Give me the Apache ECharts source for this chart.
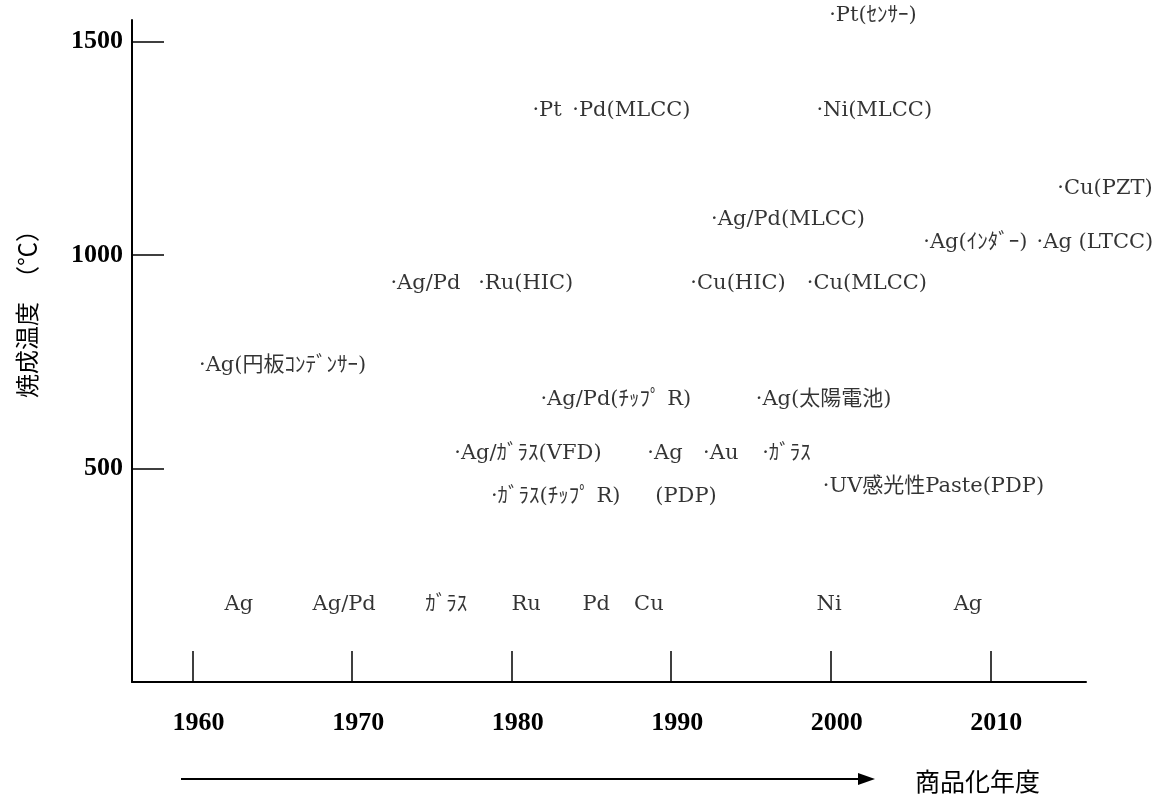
<!DOCTYPE html>
<html>
<head>
<meta charset="utf-8">
<title>焼成温度と商品化年度</title>
<script src="https://cdn.jsdelivr.net/npm/echarts@6/dist/echarts.min.js"></script>
<style>
  html, body { margin: 0; padding: 0; background: #fff; }
  #chart { width: 1161px; height: 798px; }
</style>
</head>
<body>
<div id="chart"></div>
<script>
// 用途ラベル（·付き）: 商品化年度 / 焼成温度
const pasteNames = [
  "·Pt(ｾﾝｻｰ)", "·Pt", "·Pd(MLCC)", "·Ni(MLCC)", "·Cu(PZT)",
  "·Ag/Pd(MLCC)", "·Ag(ｲﾝﾀﾞｰ)", "·Ag (LTCC)",
  "·Ag/Pd", "·Ru(HIC)", "·Cu(HIC)", "·Cu(MLCC)",
  "·Ag(円板ｺﾝﾃﾞﾝｻｰ)", "·Ag/Pd(ﾁｯﾌﾟ R)", "·Ag(太陽電池)",
  "·Ag/ｶﾞﾗｽ(VFD)", "·Ag", "·Au", "·ｶﾞﾗｽ",
  "·ｶﾞﾗｽ(ﾁｯﾌﾟ R)", "(PDP)", "·UV感光性Paste(PDP)"
];
const pasteYears = [
  1999.9, 1981.3, 1983.8, 1999.1, 2014.2,
  1992.5, 2005.8, 2012.9,
  1972.4, 1977.9, 1991.2, 1998.5,
  1960.4, 1981.8, 1995.3,
  1976.4, 1988.5, 1992.0, 1995.7,
  1978.7, 1989.0, 1999.5
];
const pasteTemps = [
  1560, 1337, 1337, 1337, 1155,
  1083, 1030, 1030,
  932, 932, 932, 932,
  742, 662, 662,
  536, 536, 536, 536,
  435, 435, 457
];

// 下段の金属名
const metalNames = ["Ag", "Ag/Pd", "ｶﾞﾗｽ", "Ru", "Pd", "Cu", "Ni", "Ag"];
const metalYears = [1962.9, 1969.5, 1975.9, 1980.9, 1985.3, 1988.6, 1999.9, 2008.6];
const metalTemps = [182, 182, 182, 182, 182, 182, 182, 182];

// 目盛
const yearTicks = [1960, 1970, 1980, 1990, 2000, 2010];
const tempTicks = [500, 1000, 1500];

const serif = "'DejaVu Serif', 'Noto Sans CJK JP', serif";
const boldSerif = "'Liberation Serif', serif";
const gothic = "'Noto Sans CJK JP', sans-serif";

const chart = echarts.init(document.getElementById("chart"));

const option = {
  animation: false,
  backgroundColor: "#fff",
  grid: { left: 132, right: 75, top: 20, bottom: 116 },
  xAxis: {
    type: "value",
    min: 1956.2,
    max: 2016,
    splitLine: { show: false },
    axisLine: { show: true, lineStyle: { color: "#000", width: 2 } },
    axisTick: {
      inside: true,
      length: 31,
      customValues: yearTicks,
      lineStyle: { color: "#000", width: 1.5 }
    },
    axisLabel: {
      customValues: yearTicks,
      margin: 28,
      padding: [0, 0, 0, 12],
      color: "#000",
      fontFamily: boldSerif,
      fontWeight: "bold",
      fontSize: 26,
      formatter: function (v) { return String(v); }
    }
  },
  yAxis: {
    type: "value",
    min: 0,
    max: 1550,
    splitLine: { show: false },
    axisLine: { show: true, lineStyle: { color: "#000", width: 2 } },
    axisTick: {
      inside: true,
      length: 32,
      customValues: tempTicks,
      lineStyle: { color: "#000", width: 1.5 }
    },
    axisLabel: {
      customValues: tempTicks,
      margin: 9,
      color: "#000",
      fontFamily: boldSerif,
      fontWeight: "bold",
      fontSize: 26,
      formatter: function (v) { return String(v); }
    },
    name: "焼成温度　（℃）",
    nameLocation: "middle",
    nameRotate: 90,
    nameGap: 93,
    nameTextStyle: {
      color: "#000",
      fontFamily: gothic,
      fontSize: 24,
      padding: [0, 0, 0, 86]
    }
  },
  graphic: [
    {
      type: "line",
      shape: { x1: 181, y1: 779, x2: 862, y2: 779 },
      style: { stroke: "#000", lineWidth: 2 }
    },
    {
      type: "polygon",
      shape: { points: [[858, 773], [875, 779], [858, 785]] },
      style: { fill: "#000" }
    },
    {
      type: "text",
      left: 915,
      top: 769,
      style: { text: "商品化年度", fill: "#000", font: "25px " + gothic }
    }
  ],
  series: [
    {
      type: "scatter",
      silent: true,
      clip: false,
      symbolSize: 0,
      data: pasteNames.map(function (n, i) {
        return { name: n, value: [pasteYears[i], pasteTemps[i]] };
      }),
      label: {
        show: true,
        position: "right",
        distance: 0,
        color: "#000",
        fontFamily: serif,
        fontSize: 21,
        formatter: function (p) { return p.name; }
      }
    },
    {
      type: "scatter",
      silent: true,
      clip: false,
      symbolSize: 0,
      data: metalNames.map(function (n, i) {
        return { name: n, value: [metalYears[i], metalTemps[i]] };
      }),
      label: {
        show: true,
        position: "inside",
        color: "#000",
        fontFamily: serif,
        fontSize: 21,
        formatter: function (p) { return p.name; }
      }
    }
  ]
};

chart.setOption(option);
</script>
</body>
</html>
